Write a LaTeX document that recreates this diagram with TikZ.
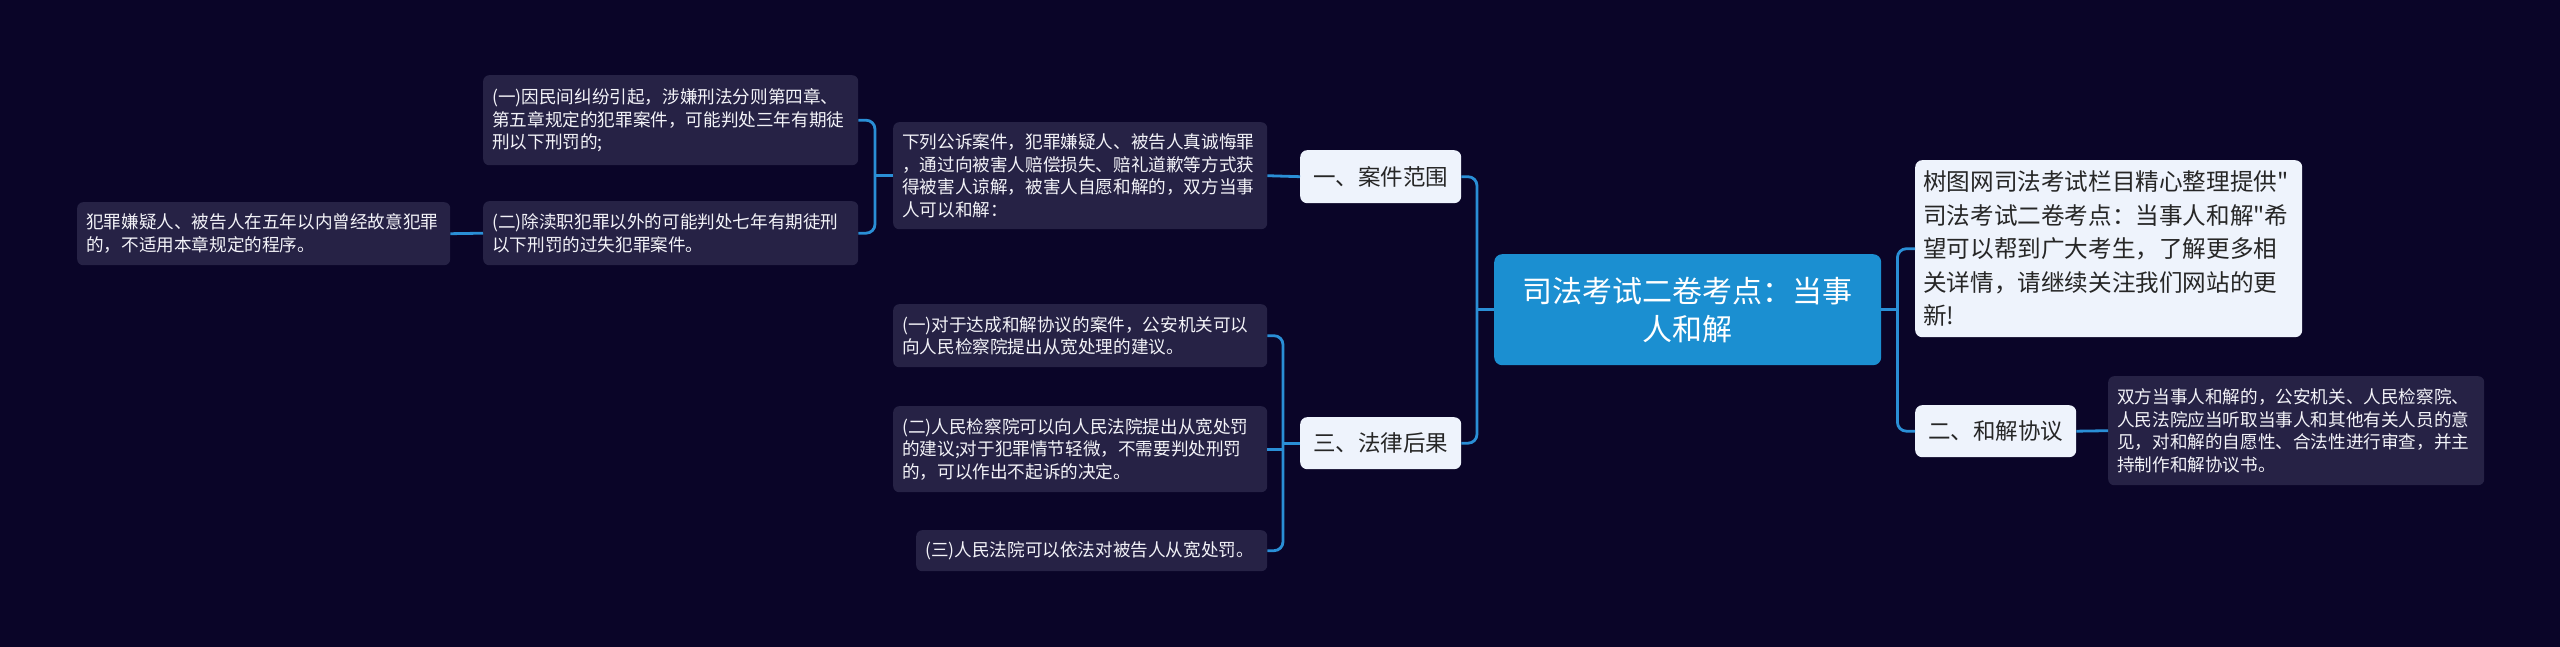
\documentclass[tikz,border=0pt]{standalone}
\usepackage{fontspec}
\newfontfamily\cjk{Noto Sans CJK SC}
\definecolor{bgc}{HTML}{0A0528}
\definecolor{leafc}{HTML}{262245}
\definecolor{leaftext}{HTML}{F3F3F8}
\definecolor{topicc}{HTML}{EEF3FC}
\definecolor{topictext}{HTML}{262626}
\definecolor{rootc}{HTML}{1B8FD1}
\definecolor{connc}{HTML}{2A8FD6}
\tikzset{
  leaf/.style={fill=leafc, rounded corners=6pt, text=leaftext, font={\cjk\fontsize{17.6}{22.5}\selectfont}, align=left, inner xsep=9pt, inner ysep=2pt, anchor=north west},
  topic/.style={fill=topicc, rounded corners=7pt, text=topictext, font={\cjk\fontsize{22.5}{31}\selectfont}, align=center, inner xsep=10pt, inner ysep=2pt, anchor=north west},
  rootnode/.style={fill=rootc, rounded corners=8pt, text=white, font={\cjk\fontsize{30}{38}\selectfont}, align=center, inner sep=4pt, anchor=north west},
  conn/.style={draw=connc, line width=2.8pt, rounded corners=9pt}
}
\begin{document}
\begin{tikzpicture}[x=1pt,y=-1pt]
\fill[bgc] (0,0) rectangle (2560,647);
\useasboundingbox (0,0) rectangle (2560,647);

% root
\node[rootnode, minimum width=387pt, minimum height=111pt] (root) at (1494,254) {司法考试二卷考点：当事\\人和解};

% level 1
\node[topic, minimum width=161pt, minimum height=53pt] (k1) at (1300,150) {一、案件范围};
\node[topic, minimum width=161pt, minimum height=52pt] (k3) at (1300,417) {三、法律后果};
\node[topic, align=left, text width=371pt, minimum height=177pt, inner xsep=8pt, font={\cjk\fontsize{23.6}{33.5}\selectfont}] (info) at (1915,160) {树图网司法考试栏目精心整理提供"\\司法考试二卷考点：当事人和解"希\\望可以帮到广大考生，了解更多相\\关详情，请继续关注我们网站的更\\新!};
\node[topic, minimum width=161pt, minimum height=52pt] (k2) at (1915,405) {二、和解协议};

% leaves of 一
\node[leaf, text width=356pt, minimum height=107pt] (a0) at (893,122) {下列公诉案件，犯罪嫌疑人、被告人真诚悔罪\\，通过向被害人赔偿损失、赔礼道歉等方式获\\得被害人谅解，被害人自愿和解的，双方当事\\人可以和解：};
\node[leaf, text width=357pt, minimum height=90pt] (a1) at (483,75) {(一)因民间纠纷引起，涉嫌刑法分则第四章、\\第五章规定的犯罪案件，可能判处三年有期徒\\刑以下刑罚的;};
\node[leaf, text width=357pt, minimum height=64pt] (a2) at (483,201) {(二)除渎职犯罪以外的可能判处七年有期徒刑\\以下刑罚的过失犯罪案件。};
\node[leaf, text width=355pt, minimum height=63pt] (a3) at (77,202) {犯罪嫌疑人、被告人在五年以内曾经故意犯罪\\的，不适用本章规定的程序。};

% leaves of 三
\node[leaf, text width=356pt, minimum height=63pt] (c1) at (893,304) {(一)对于达成和解协议的案件，公安机关可以\\向人民检察院提出从宽处理的建议。};
\node[leaf, text width=356pt, minimum height=86pt] (c2) at (893,406) {(二)人民检察院可以向人民法院提出从宽处罚\\的建议;对于犯罪情节轻微，不需要判处刑罚\\的，可以作出不起诉的决定。};
\node[leaf, text width=333pt, minimum height=41pt] (c3) at (916,530) {(三)人民法院可以依法对被告人从宽处罚。};

% leaf of 二
\node[leaf, text width=358pt, minimum height=109pt] (b1) at (2108,376) {双方当事人和解的，公安机关、人民检察院、\\人民法院应当听取当事人和其他有关人员的意\\见，对和解的自愿性、合法性进行审查，并主\\持制作和解协议书。};

% bus coordinates
\path (root.west) ++(-17,0) coordinate (busL);
\path (root.east) ++(16,0) coordinate (busR);
\path (a0.west) ++(-18,0) coordinate (busA);
\path (k3.west) ++(-17,0) coordinate (busC);

% connectors
\draw[conn] (root.west) -- (busL);
\draw[conn] (k1.east) -- (k1.east -| busL) |- (k3.east);
\draw[conn] (root.east) -- (busR);
\draw[conn] (info.west) -- (info.west -| busR) |- (k2.west);
\draw[conn] (k1.west) -- (a0.east);
\draw[conn] (a0.west) -- (busA);
\draw[conn] (a1.east) -- (a1.east -| busA) |- (a2.east);
\draw[conn] (a2.west) -- (a3.east);
\draw[conn] (k3.west) -- (busC);
\draw[conn] (c1.east) -- (c1.east -| busC) |- (c3.east);
\draw[conn] (c2.east) -- (c2.east -| busC);
\draw[conn] (k2.east) -- (b1.west);
\end{tikzpicture}
\end{document}
